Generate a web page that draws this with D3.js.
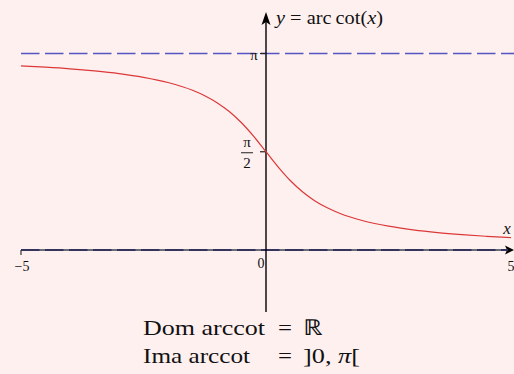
<!DOCTYPE html>
<html>
<head>
<meta charset="utf-8">
<script src="https://cdn.jsdelivr.net/npm/d3@7"></script>
<style>
  html, body { margin: 0; padding: 0; background: #fff0f0; }
  svg { display: block; }
  text { font-family: "Liberation Serif", "Times New Roman", serif; fill: #111; }
</style>
</head>
<body>
<svg id="chart" width="514" height="374"></svg>
<script>
// Sample points of y = arccot(x) on [-5, 5]
const xValues = [-5, -4.5, -4, -3.5, -3, -2.5, -2, -1.5, -1.25, -1, -0.75, -0.5, -0.25,
                 0, 0.25, 0.5, 0.75, 1, 1.25, 1.5, 2, 2.5, 3, 3.5, 4, 4.5, 5];
const yValues = [2.944, 2.923, 2.897, 2.863, 2.820, 2.761, 2.678, 2.554, 2.467, 2.356, 2.214, 2.034, 1.816,
                 1.571, 1.326, 1.107, 0.927, 0.785, 0.675, 0.588, 0.464, 0.381, 0.322, 0.278, 0.245, 0.219, 0.197];

// Horizontal asymptotes y = 0 and y = π
const asymptotes = [0, Math.PI];

// Axis tick labels
const xTicks = [-5, 0, 5];
const xTickLabels = ["\u22125", "0", "5"];
const yTicks = [Math.PI / 2, Math.PI];

const svg = d3.select("#chart");
const W = 514;

const x = d3.scaleLinear().domain([-5, 5]).range([21, 511]);
const y = d3.scaleLinear().domain([0, Math.PI]).range([250, 53.5]);

const x0 = x(0), y0 = y(0);

// x axis (drawn beneath the y = 0 asymptote)
svg.append("line")
  .attr("x1", x(-5)).attr("x2", 508)
  .attr("y1", y0).attr("y2", y0)
  .attr("stroke", "#6d6d76").attr("stroke-width", 2);

// tick at the left end of the x axis
svg.append("line")
  .attr("x1", x(-5)).attr("x2", x(-5))
  .attr("y1", y0).attr("y2", y0 + 5)
  .attr("stroke", "#333").attr("stroke-width", 1.2);

// x axis arrow head
svg.append("path")
  .attr("d", `M${W},${y0} L${W - 9},${y0 - 4.5} L${W - 7},${y0} L${W - 9},${y0 + 4.5} Z`)
  .attr("fill", "#000");

// asymptotes
svg.selectAll("line.asym")
  .data(asymptotes)
  .join("line")
  .attr("class", "asym")
  .attr("x1", x(-5)).attr("x2", d => d === 0 ? 508 : W)
  .attr("y1", d => y(d)).attr("y2", d => y(d))
  .attr("stroke", d => d === 0 ? "#33335c" : "#5656c2")
  .attr("stroke-width", d => d === 0 ? 2 : 1.6)
  .attr("stroke-dasharray", "18.5,5.5");

// y axis
svg.append("line")
  .attr("x1", x0).attr("x2", x0)
  .attr("y1", 312).attr("y2", 20)
  .attr("stroke", "#000").attr("stroke-width", 1.4);

svg.append("path")
  .attr("d", `M${x0},12 L${x0 - 4.5},${25} L${x0},${22} L${x0 + 4.5},${25} Z`)
  .attr("fill", "#000");

// y ticks
svg.selectAll("line.ytick")
  .data(yTicks)
  .join("line")
  .attr("class", "ytick")
  .attr("x1", x0 - 6).attr("x2", x0)
  .attr("y1", d => y(d)).attr("y2", d => y(d))
  .attr("stroke", "#222").attr("stroke-width", 1.2);

// y tick labels: π and π/2
svg.append("text")
  .attr("x", 254).attr("y", y(Math.PI) + 6)
  .attr("text-anchor", "middle")
  .attr("font-size", 15)
  .text("\u03c0");

const half = svg.append("g");
half.append("text")
  .attr("x", 247).attr("y", y(Math.PI / 2) - 5)
  .attr("text-anchor", "middle")
  .attr("font-size", 15)
  .text("\u03c0");
half.append("line")
  .attr("x1", 241).attr("x2", 253)
  .attr("y1", y(Math.PI / 2) + 1).attr("y2", y(Math.PI / 2) + 1)
  .attr("stroke", "#222").attr("stroke-width", 1);
half.append("text")
  .attr("x", 247).attr("y", y(Math.PI / 2) + 16)
  .attr("text-anchor", "middle")
  .attr("font-size", 15)
  .text("2");

// x tick labels
svg.selectAll("text.xlab")
  .data(xTicks)
  .join("text")
  .attr("class", "xlab")
  .attr("x", (d, i) => i === 0 ? x(d) + 1 : (i === 1 ? x(d) - 5 : x(d)))
  .attr("y", (d, i) => i === 1 ? 268 : 271)
  .attr("text-anchor", "middle")
  .attr("font-size", 14)
  .text((d, i) => xTickLabels[i]);

// axis names
svg.append("text")
  .attr("x", 507).attr("y", 234)
  .attr("text-anchor", "middle")
  .attr("font-size", 17)
  .attr("font-style", "italic")
  .text("x");

const title = svg.append("text")
  .attr("x", 276).attr("y", 24)
  .attr("font-size", 18)
  .attr("textLength", 107)
  .attr("lengthAdjust", "spacingAndGlyphs");
title.append("tspan").attr("font-style", "italic").text("y");
title.append("tspan").text(" = arc\u2009cot(");
title.append("tspan").attr("font-style", "italic").text("x");
title.append("tspan").text(")");

// the curve
const pts = xValues.map((v, i) => [v, yValues[i]]);
svg.append("path")
  .datum(pts)
  .attr("fill", "none")
  .attr("stroke", "#dc3838")
  .attr("stroke-width", 1.2)
  .attr("d", d3.line().x(d => x(d[0])).y(d => y(d[1])).curve(d3.curveMonotoneX));

// domain and range summary
const rows = [
  { name: "Dom arccot", nameW: 122, value: "\u211d", valueW: 20 },
  { name: "Ima arccot", nameW: 107, value: "]0, \u03c0[", valueW: 57 }
];
const g = svg.append("g");
rows.forEach((r, i) => {
  const by = 335 + i * 28;
  g.append("text").attr("x", 143).attr("y", by).attr("font-size", 22)
    .attr("textLength", r.nameW).attr("lengthAdjust", "spacingAndGlyphs")
    .text(r.name);
  g.append("text").attr("x", 278).attr("y", by).attr("font-size", 22)
    .attr("textLength", 14).attr("lengthAdjust", "spacingAndGlyphs")
    .text("=");
  const v = g.append("text").attr("x", 303).attr("y", by).attr("font-size", 22)
    .attr("textLength", r.valueW).attr("lengthAdjust", "spacingAndGlyphs");
  if (i === 0) {
    v.text(r.value);
  } else {
    v.append("tspan").text("]0, ");
    v.append("tspan").attr("font-style", "italic").text("\u03c0");
    v.append("tspan").text("[");
  }
});
</script>
</body>
</html>
